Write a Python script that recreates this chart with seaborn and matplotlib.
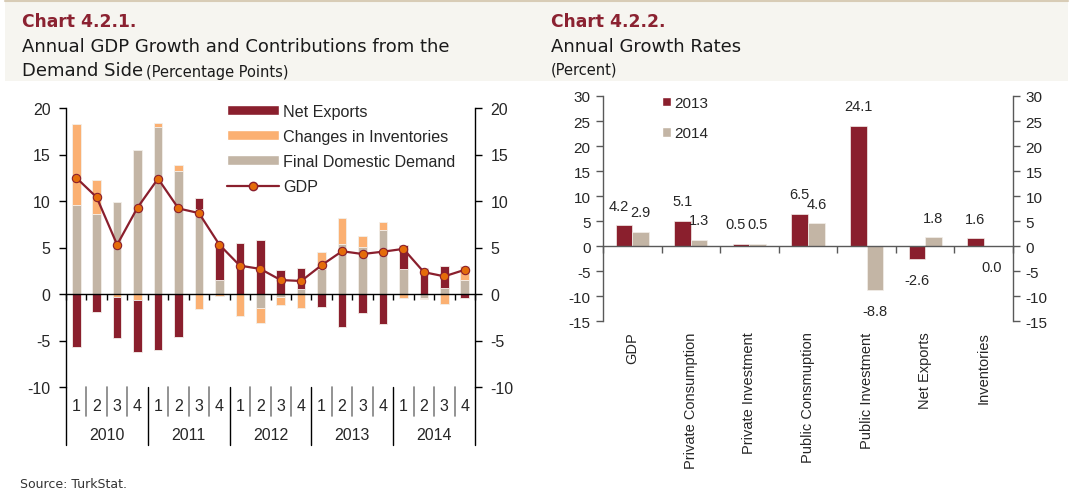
import numpy as np
import pandas as pd
import seaborn as sns
import matplotlib.pyplot as plt
from matplotlib.patches import Patch, Rectangle
from matplotlib.lines import Line2D
from matplotlib.transforms import blended_transform_factory

# Chart 4.2.1 data (quarterly, 2010Q1 .. 2014Q4)
years = ['2010', '2011', '2012', '2013', '2014']
quarters = ['1', '2', '3', '4']
final_domestic_demand = [9.6, 8.6, 9.9, 15.5, 18.0, 13.2, 9.1, 1.5, 0.0, -1.5,
                         -0.35, 0.5, 2.7, 5.4, 5.1, 6.9, 2.65, -0.4, 0.6, 1.55]
changes_in_inventories = [8.7, 3.7, -0.3, -0.6, 0.4, 0.7, -1.6, -0.25, -2.4, -1.6,
                          -0.8, -1.5, 1.85, 2.8, 1.1, 0.8, -0.4, -0.1, -1.1, 1.5]
net_exports = [-5.7, -1.9, -4.4, -5.6, -6.0, -4.6, 1.2, 4.0, 5.5, 5.8,
               2.6, 2.3, -1.4, -3.6, -2.0, -3.2, 2.6, 2.75, 2.4, -0.45]
gdp = [12.5, 10.4, 5.3, 9.3, 12.4, 9.2, 8.7, 5.3, 3.05, 2.7,
       1.5, 1.4, 3.1, 4.6, 4.3, 4.55, 4.85, 2.35, 1.9, 2.6]

# Chart 4.2.2 data
components = ['GDP', 'Private Consumption', 'Private Investment', 'Public Consmuption',
              'Public Investment', 'Net Exports', 'Inventories']
growth_2013 = [4.2, 5.1, 0.5, 6.5, 24.1, -2.6, 1.6]
growth_2014 = [2.9, 1.3, 0.5, 4.6, -8.8, 1.8, 0.0]

maroon = '#8A1F2D'
orange = '#FBB072'
beige = '#C3B5A5'
marker_orange = '#E46C0A'
title_red = '#8B2231'

W, H = 1073, 489

sns.set_theme(style='white')
plt.rcParams['font.family'] = ['Liberation Sans', 'DejaVu Sans']
plt.rcParams['axes.unicode_minus'] = False

fig = plt.figure(figsize=(W / 100, H / 100), dpi=100)
fig.patch.set_facecolor('white')

# title band
fig.patches.append(Rectangle((5 / W, 1 - 82 / H), 1063 / W, 80 / H, transform=fig.transFigure,
                             facecolor='#F6F5F0', edgecolor='none', zorder=0))
fig.add_artist(Line2D([5 / W, 1068 / W], [1 - 2 / H, 1 - 2 / H], color='#D8CCB6', lw=1.5))

tfont = 'DejaVu Sans'
fig.text(22 / W, 1 - 22 / H, 'Chart 4.2.1.', color=title_red, fontsize=12.3, fontweight='bold',
         family=tfont, va='center')
fig.text(22 / W, 1 - 47 / H, 'Annual GDP Growth and Contributions from the', fontsize=13,
         family=tfont, va='center', color='#1a1a1a')
fig.text(22 / W, 1 - 71 / H, 'Demand Side', fontsize=13, family=tfont, va='center', color='#1a1a1a')
fig.text(146 / W, 1 - 72 / H, '(Percentage Points)', fontsize=10.5, family=tfont, va='center', color='#1a1a1a')
fig.text(551 / W, 1 - 22 / H, 'Chart 4.2.2.', color=title_red, fontsize=12.3, fontweight='bold',
         family=tfont, va='center')
fig.text(551 / W, 1 - 47 / H, 'Annual Growth Rates', fontsize=13, family=tfont, va='center', color='#1a1a1a')
fig.text(551 / W, 1 - 70 / H, '(Percent)', fontsize=10.5, family=tfont, va='center', color='#1a1a1a')
fig.text(20 / W, 1 - 478 / H, 'Source: TurkStat.', fontsize=9, family=tfont, va='top', color='#333333')

# ---------------- Chart 4.2.1 ----------------
ax1 = fig.add_axes([66 / W, (H - 388) / H, 409 / W, 279 / H])
labels = [y + 'Q' + q for y in years for q in quarters]

pos_base = np.zeros(len(labels))
neg_base = np.zeros(len(labels))
for series, col in [(final_domestic_demand, beige), (changes_in_inventories, orange), (net_exports, maroon)]:
    vals = np.array(series)
    bottom = np.where(vals >= 0, pos_base, neg_base)
    sns.barplot(x=labels, y=vals, order=labels, color=col, saturation=1, width=0.42,
                errorbar=None, bottom=bottom, edgecolor='#F3EFEA', linewidth=0.6, ax=ax1)
    pos_base = pos_base + np.clip(vals, 0, None)
    neg_base = neg_base + np.clip(vals, None, 0)

sns.lineplot(x=np.arange(len(labels)), y=gdp, color=maroon, linewidth=1.6, marker='o',
             markersize=6, markerfacecolor=marker_orange, markeredgecolor=maroon,
             markeredgewidth=0.8, ax=ax1, zorder=5)

ax1.set_xlim(-0.5, len(labels) - 0.5)
ax1.set_ylim(-10, 20)
ax1.set_yticks(range(-10, 21, 5))
ax1.set_xticks(np.arange(-0.5, len(labels), 1))
ax1.set_xticklabels([])
ax1.set_xlabel('')
ax1.set_ylabel('')
ax1.spines['top'].set_visible(False)
ax1.spines['bottom'].set_position(('data', 0))
for s in ['left', 'right', 'bottom']:
    ax1.spines[s].set_color('black')
    ax1.spines[s].set_linewidth(1.0)
ax1.tick_params(axis='y', left=True, right=True, labelleft=True, labelright=True,
                direction='out', length=5, width=1, color='black', labelsize=11.5, pad=6)
ax1.tick_params(axis='x', bottom=True, direction='out', length=4, width=1, color='black')

tr = blended_transform_factory(ax1.transData, ax1.transAxes)
for i, lab in enumerate(labels):
    ax1.text(i, -0.068, lab[-1], transform=tr, ha='center', va='center', fontsize=11.5)
    if i % 4 != 0:
        ax1.plot([i - 0.5, i - 0.5], [0, -0.104], transform=tr, color='#808080', lw=1.2, clip_on=False)
for k, y in enumerate(years):
    ax1.text(4 * k + 1.5, -0.172, y, transform=tr, ha='center', va='center', fontsize=11.5)
    ax1.plot([4 * k - 0.5, 4 * k - 0.5], [0, -0.208], transform=tr, color='black', lw=1, clip_on=False)
ax1.plot([len(labels) - 0.5] * 2, [0, -0.208], transform=tr, color='black', lw=1, clip_on=False)

handles1 = [Patch(facecolor=maroon), Patch(facecolor=orange), Patch(facecolor=beige),
            Line2D([], [], color=maroon, lw=1.6, marker='o', markersize=6,
                   markerfacecolor=marker_orange, markeredgecolor=maroon)]
ax1.legend(handles1, ['Net Exports', 'Changes in Inventories', 'Final Domestic Demand', 'GDP'],
           loc='upper left', bbox_to_anchor=(227 / W, 1 - 105 / H), bbox_transform=fig.transFigure,
           frameon=False, fontsize=11.6, handlelength=3.2, handleheight=0.6, handletextpad=0.3,
           labelspacing=0.62, borderpad=0, borderaxespad=0)

# ---------------- Chart 4.2.2 ----------------
ax2 = fig.add_axes([603 / W, (H - 322.3) / H, 410 / W, 225.3 / H])
df2 = pd.DataFrame({
    'component': components * 2,
    'year': ['2013'] * len(components) + ['2014'] * len(components),
    'growth': growth_2013 + growth_2014,
})
sns.barplot(data=df2, x='component', y='growth', hue='year', order=components,
            palette=[maroon, beige], saturation=1, width=0.565, errorbar=None,
            edgecolor='#F3EFEA', linewidth=0.5, legend=False, ax=ax2)

for j, (cont, vals) in enumerate(zip(ax2.containers, [growth_2013, growth_2014])):
    for i, (bar, v) in enumerate(zip(cont, vals)):
        xc = bar.get_x() + bar.get_width() / 2
        off = 14 if v > 0 else -15
        # nudge the 2013 label apart where both labels share the same height
        dx = -4 if (j == 0 and abs(growth_2013[i] - growth_2014[i]) < 1.5) else 0
        ax2.annotate(f'{v:.1f}', xy=(xc, v), xytext=(dx, off), textcoords='offset points',
                     ha='center', va='center', fontsize=10.5)

ax2.set_xlim(-0.5, len(components) - 0.5)
ax2.set_ylim(-15, 30)
ax2.set_yticks(range(-15, 31, 5))
ax2.set_xticks(np.arange(-0.5, len(components), 1))
ax2.set_xticklabels([])
ax2.set_xlabel('')
ax2.set_ylabel('')
ax2.spines['top'].set_visible(False)
ax2.spines['bottom'].set_position(('data', 0))
for s in ['left', 'right', 'bottom']:
    ax2.spines[s].set_color('#595959')
    ax2.spines[s].set_linewidth(1.0)
ax2.tick_params(axis='y', left=True, right=True, labelleft=True, labelright=True,
                direction='out', length=5, width=1, color='#595959', labelsize=11, pad=4)
ax2.tick_params(axis='x', bottom=True, direction='out', length=5, width=1, color='#595959')

tr2 = blended_transform_factory(ax2.transData, ax2.transAxes)
for i, name in enumerate(components):
    ax2.text(i, -0.045, name, transform=tr2, rotation=90, ha='center', va='top', fontsize=10.5)

handles2 = [Patch(facecolor=maroon), Patch(facecolor=beige)]
ax2.legend(handles2, ['2013', '2014'], loc='upper left', bbox_to_anchor=(662 / W, 1 - 97 / H),
           bbox_transform=fig.transFigure, frameon=False, fontsize=11, handlelength=0.6,
           handleheight=0.6, handletextpad=0.2, labelspacing=1.05, borderpad=0, borderaxespad=0)

fig.savefig('out.png', dpi=100)
